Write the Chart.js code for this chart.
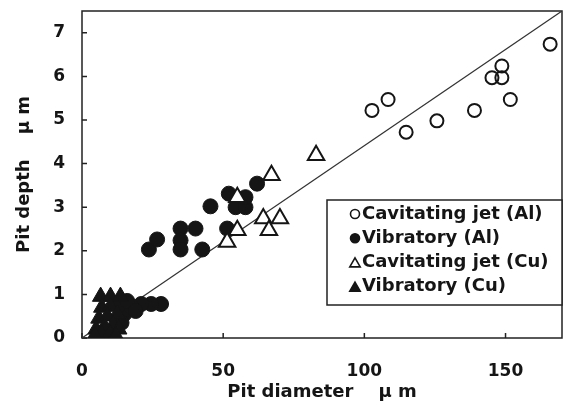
<!DOCTYPE html>
<html>
<head>
<meta charset="utf-8">
<script src="https://cdn.jsdelivr.net/npm/chart.js@4.4.1/dist/chart.umd.min.js"></script>
<style>
  html, body { margin: 0; padding: 0; background: #fff; }
</style>
</head>
<body>
<canvas id="pitChart" width="563" height="408"></canvas>
<script>
// series labels (legend order)
var seriesLabels = ['Cavitating jet (Al)', 'Vibratory (Al)', 'Cavitating jet (Cu)', 'Vibratory (Cu)'];

// pit diameter (um) / pit depth (um)
var jetAlDiameter = [102.7, 108.4, 114.8, 125.7, 139.0, 145.2, 148.7, 148.7, 151.7, 165.8];
var jetAlDepth    = [5.22, 5.47, 4.72, 4.98, 5.22, 5.97, 5.97, 6.24, 5.47, 6.74];

var vibAlDiameter = [23.7, 26.6, 34.9, 40.2, 34.9, 34.9, 42.6, 45.5, 52.0, 51.4, 54.4, 57.9, 57.9, 62.0,
                     28.0, 24.5, 21.0, 17.5, 15.0, 13.0, 16.0, 19.0, 14.0];
var vibAlDepth    = [2.03, 2.26, 2.51, 2.51, 2.24, 2.03, 2.03, 3.02, 3.31, 2.51, 3.00, 3.00, 3.23, 3.54,
                     0.78, 0.78, 0.78, 0.72, 0.55, 0.75, 0.85, 0.62, 0.35];

var jetCuDiameter = [82.9, 67.1, 55.0, 64.2, 70.1, 66.2, 55.0, 51.4];
var jetCuDepth    = [4.19, 3.73, 3.23, 2.74, 2.74, 2.47, 2.47, 2.20];

var vibCuDiameter = [6.6, 10.1, 13.6, 7.0, 10.0, 12.5, 6.0, 9.0, 11.0, 5.0, 8.0, 13.0, 7.0, 10.0, 12.0, 4.5];
var vibCuDepth    = [0.95, 0.95, 0.95, 0.70, 0.72, 0.55, 0.45, 0.50, 0.30, 0.20, 0.25, 0.20, 0.08, 0.10, 0.05, 0.05];

// fitted line
var fitDiameter = [0, 170];
var fitDepth    = [0, 7.5];

// axes
var xMin = 0, xMax = 170, xStep = 50;
var yMin = 0, yMax = 7.5, yStep = 1;
var xTitle = 'Pit diameter    \u03bc m';
var yTitle = 'Pit depth    \u03bc m';

var ink = '#151515';
var fontFamily = '"DejaVu Sans", "Liberation Sans", sans-serif';

function toPoints(xs, ys) {
    return xs.map(function (x, i) { return { x: x, y: ys[i] }; });
}

// legend symbols, same order as seriesLabels
var legendStyles = [
    { shape: 'circle', filled: false },
    { shape: 'circle', filled: true },
    { shape: 'triangle', filled: false },
    { shape: 'triangle', filled: true }
];

function drawSymbol(ctx, style, x, y, r) {
    ctx.beginPath();
    if (style.shape === 'circle') {
        ctx.arc(x, y, r, 0, Math.PI * 2);
    } else {
        ctx.moveTo(x, y - r);
        ctx.lineTo(x + 0.866 * r, y + 0.5 * r);
        ctx.lineTo(x - 0.866 * r, y + 0.5 * r);
        ctx.closePath();
    }
    ctx.fillStyle = style.filled ? ink : '#fff';
    ctx.fill();
    ctx.lineWidth = 1.6;
    ctx.strokeStyle = ink;
    ctx.stroke();
}

// no extra room for the end labels, the plot fills the frame
function fixBox(scale) {
    scale.paddingTop = 0;
    scale.paddingBottom = 0;
    scale.paddingLeft = 0;
    scale.paddingRight = 0;
}

// box round the plot and inward tick marks
var frameTicks = {
    id: 'frameTicks',
    beforeDatasetsDraw: function (chart) {
        var ctx = chart.ctx, a = chart.chartArea;
        var xs = chart.scales.x, ys = chart.scales.y;
        ctx.save();
        ctx.strokeStyle = '#222';
        ctx.lineWidth = 1.5;
        ctx.strokeRect(a.left, a.top, a.right - a.left, a.bottom - a.top);
        ctx.beginPath();
        xs.ticks.forEach(function (t) {
            var px = xs.getPixelForValue(t.value);
            ctx.moveTo(px, a.bottom);
            ctx.lineTo(px, a.bottom - 5);
        });
        ys.ticks.forEach(function (t) {
            var py = ys.getPixelForValue(t.value);
            ctx.moveTo(a.left, py);
            ctx.lineTo(a.left + 5, py);
        });
        ctx.stroke();
        ctx.restore();
    }
};

// legend box inside the plot, lower right
var insideLegend = {
    id: 'insideLegend',
    afterDraw: function (chart) {
        var ctx = chart.ctx, a = chart.chartArea;
        var boxLeft = a.left + 245, boxTop = a.top + 189;
        var boxW = a.right - boxLeft, boxH = 105;
        ctx.save();
        ctx.fillStyle = '#fff';
        ctx.fillRect(boxLeft, boxTop, boxW, boxH);
        ctx.strokeStyle = '#222';
        ctx.lineWidth = 1.5;
        ctx.strokeRect(boxLeft, boxTop, boxW, boxH);
        ctx.font = 'bold 18px ' + fontFamily;
        ctx.textBaseline = 'middle';
        ctx.textAlign = 'left';
        seriesLabels.forEach(function (label, i) {
            var rowY = boxTop + 14 + i * 24.2;
            var st = legendStyles[i];
            drawSymbol(ctx, st, boxLeft + 28, rowY + (st.shape === 'triangle' ? 1.5 : 0), st.shape === 'triangle' ? 6 : 4.5);
            ctx.fillStyle = ink;
            ctx.fillText(label, boxLeft + 35, rowY);
        });
        ctx.restore();
    }
};

var ctx = document.getElementById('pitChart').getContext('2d');

var chart = new Chart(ctx, {
    type: 'scatter',
    data: {
        datasets: [
            {
                label: seriesLabels[0],
                data: toPoints(jetAlDiameter, jetAlDepth),
                pointStyle: 'circle',
                pointRadius: 6.5,
                pointBorderWidth: 2,
                pointBackgroundColor: 'rgba(0,0,0,0)',
                pointBorderColor: ink,
                order: 2
            },
            {
                label: seriesLabels[1],
                data: toPoints(vibAlDiameter, vibAlDepth),
                pointStyle: 'circle',
                pointRadius: 7.5,
                pointBorderWidth: 1,
                pointBackgroundColor: ink,
                pointBorderColor: ink,
                order: 4
            },
            {
                label: seriesLabels[2],
                data: toPoints(jetCuDiameter, jetCuDepth),
                pointStyle: 'triangle',
                pointRadius: 9.5,
                pointBorderWidth: 2,
                pointBackgroundColor: '#fff',
                pointBorderColor: ink,
                order: 1
            },
            {
                label: seriesLabels[3],
                data: toPoints(vibCuDiameter, vibCuDepth),
                pointStyle: 'triangle',
                pointRadius: 9.5,
                pointBorderWidth: 1,
                pointBackgroundColor: ink,
                pointBorderColor: ink,
                order: 3
            },
            {
                type: 'line',
                label: 'fit',
                data: toPoints(fitDiameter, fitDepth),
                showLine: true,
                borderColor: '#333',
                borderWidth: 1.2,
                pointRadius: 0,
                fill: false,
                order: 10
            }
        ]
    },
    options: {
        responsive: false,
        animation: false,
        layout: { autoPadding: false, padding: { top: 11, right: 1, left: 0, bottom: 0 } },
        scales: {
            x: {
                type: 'linear',
                min: xMin,
                max: xMax,
                grid: { display: false, drawTicks: false },
                border: { display: false },
                afterBuildTicks: function (scale) {
                    scale.ticks = scale.ticks.filter(function (t) { return t.value % xStep === 0; });
                },
                afterFit: function (scale) { scale.height = 70; fixBox(scale); },
                ticks: {
                    stepSize: xStep,
                    padding: 23,
                    maxRotation: 0,
                    color: ink,
                    font: { family: fontFamily, size: 17, weight: 'bold' }
                },
                title: {
                    display: true,
                    text: xTitle,
                    color: ink,
                    padding: { top: 0, bottom: 5 },
                    font: { family: fontFamily, size: 18, weight: 'bold' }
                }
            },
            y: {
                type: 'linear',
                min: yMin,
                max: yMax,
                grid: { display: false, drawTicks: false },
                border: { display: false },
                afterBuildTicks: function (scale) {
                    scale.ticks = scale.ticks.filter(function (t) { return t.value % yStep === 0; });
                },
                afterFit: function (scale) { scale.width = 82; fixBox(scale); },
                ticks: {
                    stepSize: yStep,
                    padding: 17,
                    color: ink,
                    font: { family: fontFamily, size: 17, weight: 'bold' }
                },
                title: {
                    display: true,
                    text: yTitle,
                    color: ink,
                    padding: { top: 14, bottom: 0 },
                    font: { family: fontFamily, size: 18, weight: 'bold' }
                }
            }
        },
        plugins: {
            legend: { display: false },
            tooltip: { enabled: false }
        }
    },
    plugins: [frameTicks, insideLegend]
});
</script>
</body>
</html>
